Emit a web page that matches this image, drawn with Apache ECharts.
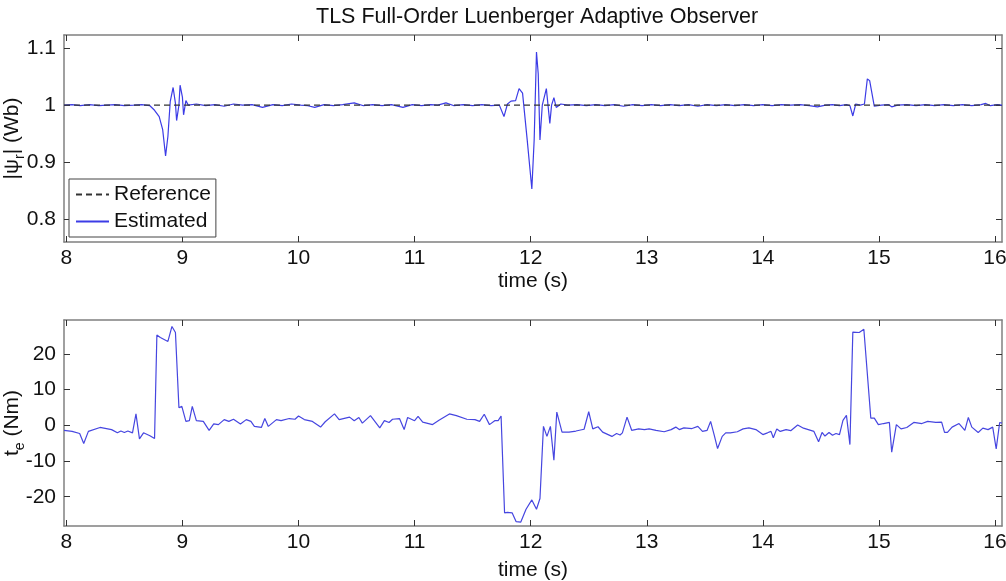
<!DOCTYPE html>
<html>
<head>
<meta charset="utf-8">
<script src="https://cdn.jsdelivr.net/npm/echarts@6/dist/echarts.min.js"></script>
<style>html,body{margin:0;padding:0;background:#fff}#c{width:1006px;height:581px}</style>
</head>
<body>
<div id="c"></div>
<script>
// ---- data ----
const xTicks = [8, 9, 10, 11, 12, 13, 14, 15, 16];
const fluxTicks = [0.8, 0.9, 1, 1.1];
const torqueTicks = [-20, -10, 0, 10, 20];

const refTime = [7.98, 16.06];
const refFlux = [1, 1];

const fluxTime = [7.98, 8.05, 8.12, 8.2, 8.28, 8.35, 8.42, 8.5, 8.58, 8.65, 8.72, 8.76, 8.80, 8.83, 8.855, 8.875, 8.895, 8.92, 8.94, 8.95, 8.97, 8.98, 9.0, 9.01, 9.03, 9.05,
  9.12, 9.2, 9.28, 9.36, 9.44, 9.52, 9.6, 9.69, 9.78, 9.86, 9.94, 10.02, 10.08, 10.14, 10.22, 10.3, 10.38, 10.48, 10.56, 10.64, 10.72, 10.8, 10.9, 10.98, 11.06, 11.14, 11.2, 11.27, 11.34, 11.42, 11.5, 11.58, 11.66, 11.73,
  11.77, 11.80, 11.83, 11.87, 11.90, 11.93, 11.97, 12.01, 12.03, 12.05, 12.065, 12.08, 12.10, 12.135, 12.165, 12.18, 12.20, 12.22, 12.26,
  12.32, 12.4, 12.48, 12.56, 12.64, 12.72, 12.8, 12.88, 12.96, 13.04, 13.12, 13.2, 13.28, 13.36, 13.44, 13.52, 13.6, 13.68, 13.76, 13.84, 13.92, 14.0, 14.08, 14.16, 14.24, 14.32, 14.4, 14.47, 14.54, 14.6, 14.66, 14.72,
  14.75, 14.775, 14.80, 14.84, 14.875, 14.90, 14.92, 14.96, 15.02, 15.08, 15.11, 15.16, 15.24, 15.32, 15.4, 15.48, 15.56, 15.64, 15.72, 15.8, 15.88, 15.92, 15.96, 16.02, 16.06];
const fluxEst = [1.0, 1.001, 0.999, 1.001, 0.999, 1.0, 1.001, 0.999, 1.0, 1.001, 0.999, 0.991, 0.980, 0.957, 0.911, 0.945, 1.006, 1.031, 1.003, 0.973, 1.0, 1.035, 1.014, 0.983, 1.008, 1.0,
  1.002, 0.999, 1.001, 0.998, 1.002, 1.0, 1.001, 0.996, 1.001, 0.999, 1.002, 1.0, 0.999, 0.996, 1.001, 0.999, 1.001, 1.004, 0.999, 1.001, 0.999, 1.001, 0.996, 1.001, 0.999, 1.001, 1.0, 1.004, 0.999, 1.001, 0.999, 1.001, 0.999, 1.0,
  0.980, 1.002, 1.007, 1.008, 1.029, 1.021, 0.939, 0.853, 0.939, 1.093, 1.055, 0.939, 1.0, 1.029, 0.968, 1.0, 1.013, 0.996, 1.002,
  1.0, 1.001, 0.999, 1.001, 0.999, 1.001, 0.998, 1.001, 0.999, 1.001, 0.999, 1.001, 0.999, 1.001, 0.998, 1.001, 0.999, 1.001, 0.999, 1.001, 0.999, 1.001, 0.999, 1.001, 1.0, 1.001, 0.999, 0.997, 1.0, 1.001, 0.999, 1.001,
  0.999, 0.981, 1.002, 1.0, 1.002, 1.046, 1.043, 0.998, 1.0, 1.001, 0.997, 1.0, 1.001, 0.999, 1.001, 0.999, 1.001, 0.999, 1.001, 0.999, 1.001, 1.003, 0.999, 1.001, 1.0];

const torqueTime = [7.98, 8.05, 8.115, 8.15, 8.19, 8.29, 8.39, 8.44, 8.47, 8.5, 8.53, 8.57, 8.60, 8.63, 8.665, 8.72, 8.76, 8.78, 8.81, 8.875, 8.91, 8.94, 8.97, 8.995,
  9.03, 9.06, 9.085, 9.12, 9.18, 9.23, 9.27, 9.31, 9.36, 9.40, 9.44, 9.50, 9.55, 9.59, 9.62, 9.68, 9.71, 9.74, 9.81, 9.85, 9.92, 9.97,
  10.0, 10.05, 10.12, 10.19, 10.23, 10.31, 10.35, 10.44, 10.48, 10.52, 10.55, 10.62, 10.70, 10.74, 10.78, 10.81, 10.87, 10.91, 10.94,
  11.0, 11.03, 11.07, 11.155, 11.21, 11.30, 11.36, 11.45, 11.52, 11.56, 11.60, 11.645, 11.69, 11.72, 11.745, 11.775, 11.80, 11.84, 11.875, 11.915, 11.96,
  12.01, 12.05, 12.08, 12.11, 12.14, 12.17, 12.20, 12.225, 12.27, 12.33, 12.39, 12.46, 12.50, 12.535, 12.58, 12.62, 12.70, 12.74, 12.77, 12.79, 12.83, 12.87, 12.93, 12.98,
  13.02, 13.08, 13.15, 13.21, 13.25, 13.28, 13.32, 13.39, 13.44, 13.48, 13.52, 13.55, 13.58, 13.61, 13.65, 13.68, 13.72, 13.78, 13.83, 13.88, 13.94,
  14.00, 14.04, 14.07, 14.09, 14.12, 14.15, 14.20, 14.24, 14.30, 14.35, 14.44, 14.48, 14.51, 14.535, 14.57, 14.60, 14.63, 14.66, 14.69, 14.72, 14.75, 14.775, 14.83, 14.87, 14.93, 14.96, 14.995,
  15.04, 15.09, 15.11, 15.15, 15.19, 15.24, 15.30, 15.37, 15.42, 15.49, 15.54, 15.565, 15.59, 15.63, 15.69, 15.74, 15.77, 15.80, 15.855, 15.895, 15.94, 15.98, 16.01, 16.04, 16.06];
const torqueEst = [-1.4, -1.7, -2.3, -5.1, -1.7, -0.6, -1.2, -2.1, -1.6, -2.0, -1.6, -2.1, 3.2, -3.8, -2.1, -2.9, -3.7, 25.3, 24.6, 23.5, 27.7, 26.0, 4.9, 5.3,
  1.1, 1.3, 5.3, 1.3, 1.1, -1.4, 0.4, 0.2, 1.6, 1.1, 1.7, 0.4, 1.6, 1.1, -0.3, -0.6, 1.9, -0.3, 1.6, 1.3, 1.9, 1.7,
  2.6, 1.6, 1.1, -0.5, 1.0, 3.2, 1.6, 2.3, 1.3, 2.2, 0.6, 2.7, -0.7, 1.3, 0.8, 1.7, 1.9, -1.2, 2.2,
  1.3, 2.5, 0.9, 0.2, 1.4, 3.2, 2.7, 1.7, 1.6, 1.1, 3.1, 0.2, 1.3, 1.3, 2.6, -24.5, -24.4, -24.5, -27.0, -27.1, -23.5,
  -20.9, -23.5, -20.5, -0.3, -3.1, -0.3, -9.8, 3.7, -1.9, -1.9, -1.6, -1.1, 3.8, -1.0, -0.4, -1.9, -3.1, -2.3, -2.7, -2.1, 2.3, -1.4, -1.0, -1.2,
  -1.0, -1.4, -1.8, -1.2, -0.5, -1.2, -0.7, -0.9, -0.3, -1.7, -1.4, 1.1, -2.6, -6.5, -3.1, -2.1, -2.1, -1.8, -1.0, -0.7, -1.2,
  -2.6, -2.1, -1.7, -3.5, -1.0, -1.7, -1.2, -1.5, 0.1, -0.8, -1.7, -4.6, -2.0, -3.0, -2.0, -2.8, -2.3, -2.6, 1.4, 2.8, -5.4, 26.1, 26.0, 26.9, 2.0, 2.0, 0.2,
  0.5, 0.8, -7.5, 0.2, -1.0, -0.6, 0.8, 0.5, 1.1, 0.8, 0.9, -2.0, -2.0, -0.5, 0.5, -1.4, 2.2, -0.5, -2.0, -0.8, -1.2, -0.5, -6.6, 0.8, 0.6];

// ---- chart ----
const zip = (a, b) => a.map((t, i) => [t, b[i]]);
const FONT = "'Liberation Sans', Arial, Helvetica, sans-serif";
const TXT = '#111';
const FRAME = '#808080';
const X_MIN = 7.98, X_MAX = 16.06;
const F_MIN = 0.76, F_MAX = 1.123;
const T_MIN = -28.2, T_MAX = 29.5;
const FS = 21;

function xAx(grid, pos, showLabels, name, gap) {
  return {
    type: 'value', gridIndex: grid, position: pos, min: X_MIN, max: X_MAX,
    name: name || '', nameLocation: 'middle', nameGap: gap || 0, nameMoveOverlap: false,
    nameTextStyle: { fontFamily: FONT, fontSize: FS, color: TXT },
    axisLine: { show: true, onZero: false, lineStyle: { color: FRAME, width: 1.5 } },
    axisTick: { show: true, inside: true, length: 6, customValues: xTicks, lineStyle: { color: '#333' } },
    axisLabel: { show: showLabels, customValues: xTicks, fontFamily: FONT, fontSize: FS, color: TXT, margin: 6 },
    splitLine: { show: false }
  };
}
function yAx(grid, pos, showLabels, min, max, ticks, name, gap) {
  return {
    type: 'value', gridIndex: grid, position: pos, min: min, max: max,
    name: name || '', nameLocation: 'middle', nameGap: gap || 0, nameRotate: 90, nameMoveOverlap: false,
    nameTextStyle: {
      fontFamily: FONT, fontSize: FS, color: TXT, lineHeight: 30,
      rich: { s: { fontFamily: FONT, fontSize: 14, color: TXT, verticalAlign: 'bottom', lineHeight: 14 } }
    },
    axisLine: { show: true, onZero: false, lineStyle: { color: FRAME, width: 1.5 } },
    axisTick: { show: true, inside: true, length: 6, customValues: ticks, lineStyle: { color: '#333' } },
    axisLabel: {
      show: showLabels, customValues: ticks, fontFamily: FONT, fontSize: FS, color: TXT, margin: 8,
      formatter: v => String(Math.round(v * 10) / 10)
    },
    splitLine: { show: false }
  };
}

const chart = echarts.init(document.getElementById('c'), null, { renderer: 'canvas' });
chart.setOption({
  animation: false,
  backgroundColor: '#fff',
  title: {
    text: 'TLS Full-Order Luenberger Adaptive Observer',
    left: 311, top: 1,
    textStyle: { fontFamily: FONT, fontSize: 21.5, fontWeight: 'normal', color: TXT }
  },
  grid: [
    { left: 64, right: 4, top: 35, height: 207, containLabel: false, outerBoundsMode: 'none' },
    { left: 64, right: 4, top: 320, height: 206, containLabel: false, outerBoundsMode: 'none' }
  ],
  xAxis: [
    xAx(0, 'bottom', true, 'time (s)', 29),
    xAx(0, 'top', false),
    xAx(1, 'bottom', true, 'time (s)', 34),
    xAx(1, 'top', false)
  ],
  yAxis: [
    yAx(0, 'left', true, F_MIN, F_MAX, fluxTicks, '|ψ{s|r}| (Wb)', 37),
    yAx(0, 'right', false, F_MIN, F_MAX, fluxTicks),
    yAx(1, 'left', true, T_MIN, T_MAX, torqueTicks, 't{s|e} (Nm)', 37),
    yAx(1, 'right', false, T_MIN, T_MAX, torqueTicks)
  ],
  legend: {
    data: ['Reference', 'Estimated'],
    orient: 'vertical', left: 69, top: 179,
    itemWidth: 33, itemHeight: 14, itemGap: 6,
    padding: [5, 5, 5, 6],
    borderColor: '#444', borderWidth: 1, backgroundColor: '#fff',
    itemStyle: { opacity: 0 },
    textStyle: { fontFamily: FONT, fontSize: FS, color: TXT }
  },
  series: [
    {
      name: 'Estimated', type: 'line', xAxisIndex: 0, yAxisIndex: 0,
      data: zip(fluxTime, fluxEst), showSymbol: false, symbol: 'none',
      lineStyle: { color: '#3c3ce6', width: 1.2 }, itemStyle: { color: '#3c3ce6' }, z: 2
    },
    {
      name: 'Reference', type: 'line', xAxisIndex: 0, yAxisIndex: 0,
      data: zip(refTime, refFlux), showSymbol: false, symbol: 'none',
      lineStyle: { color: '#333', width: 1.2, type: [6, 4] }, itemStyle: { color: '#333' }, z: 3
    },
    {
      name: 'Torque', type: 'line', xAxisIndex: 2, yAxisIndex: 2,
      data: zip(torqueTime, torqueEst), showSymbol: false, symbol: 'none',
      lineStyle: { color: '#4646e0', width: 1.2 }, itemStyle: { color: '#4646e0' }
    }
  ]
});
</script>
</body>
</html>
